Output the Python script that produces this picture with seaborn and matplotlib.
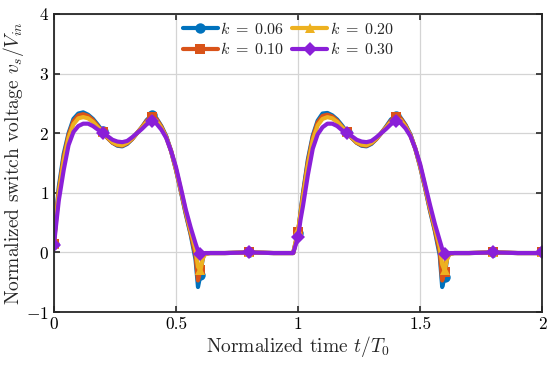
import numpy as np
import pandas as pd
import matplotlib
matplotlib.use('Agg')
import matplotlib.pyplot as plt
import seaborn as sns

# time grid (one switching period, repeated for the second period)
t_period = [0.00, 0.01, 0.02, 0.04, 0.06, 0.08, 0.10, 0.12, 0.14, 0.16, 0.18, 0.20,
            0.22, 0.24, 0.26, 0.28, 0.30, 0.32, 0.34, 0.36, 0.38, 0.40, 0.42, 0.44,
            0.46, 0.48, 0.50, 0.52, 0.54, 0.56, 0.58, 0.59, 0.60, 0.61, 0.62, 0.64,
            0.70, 0.80, 0.90, 0.98]
t = t_period + [round(x + 1, 2) for x in t_period] + [2.00]

k_labels = [r'$k\;=\;0.06$', r'$k\;=\;0.10$', r'$k\;=\;0.20$', r'$k\;=\;0.30$']

v_k006 = [0.15, 0.65, 1.10, 1.65, 2.00, 2.24, 2.33, 2.35, 2.31, 2.24, 2.14, 2.03,
          1.92, 1.84, 1.79, 1.78, 1.82, 1.90, 2.00, 2.10, 2.22, 2.30, 2.25, 2.12,
          1.95, 1.70, 1.38, 1.02, 0.64, 0.30, -0.12, -0.58, -0.38, -0.08, -0.02, -0.01,
          -0.01, 0.00, -0.01, -0.01,
          0.33, 0.68, 1.00, 1.56, 1.96, 2.21, 2.33, 2.34, 2.30, 2.23, 2.13, 2.02,
          1.92, 1.84, 1.79, 1.78, 1.82, 1.90, 2.00, 2.11, 2.23, 2.29, 2.26, 2.14,
          1.98, 1.74, 1.43, 1.08, 0.70, 0.36, -0.05, -0.58, -0.42, -0.10, -0.02, -0.01,
          -0.01, 0.00, -0.01, -0.01, 0.00]

v_k010 = [0.15, 0.62, 1.05, 1.60, 1.97, 2.20, 2.30, 2.32, 2.29, 2.22, 2.12, 2.02,
          1.92, 1.84, 1.80, 1.79, 1.83, 1.90, 2.00, 2.10, 2.21, 2.27, 2.24, 2.11,
          1.94, 1.70, 1.39, 1.03, 0.66, 0.32, -0.05, -0.47, -0.30, -0.07, -0.02, -0.01,
          -0.01, 0.00, -0.01, -0.01,
          0.35, 0.66, 0.97, 1.52, 1.93, 2.18, 2.29, 2.31, 2.28, 2.21, 2.11, 2.02,
          1.92, 1.84, 1.80, 1.79, 1.83, 1.90, 2.00, 2.10, 2.21, 2.27, 2.25, 2.13,
          1.97, 1.74, 1.44, 1.09, 0.72, 0.38, 0.01, -0.47, -0.33, -0.08, -0.02, -0.01,
          -0.01, 0.00, -0.01, -0.01, 0.00]

v_k020 = [0.14, 0.58, 1.00, 1.53, 1.92, 2.15, 2.25, 2.27, 2.25, 2.19, 2.10, 2.02,
          1.93, 1.85, 1.81, 1.80, 1.84, 1.91, 2.00, 2.09, 2.19, 2.24, 2.21, 2.09,
          1.93, 1.70, 1.40, 1.05, 0.69, 0.36, 0.05, -0.24, -0.30, -0.10, -0.02, -0.01,
          -0.01, 0.00, -0.01, -0.01,
          0.38, 0.64, 0.92, 1.46, 1.88, 2.13, 2.24, 2.27, 2.25, 2.19, 2.10, 2.02,
          1.93, 1.85, 1.81, 1.80, 1.84, 1.91, 2.00, 2.09, 2.19, 2.24, 2.22, 2.11,
          1.96, 1.74, 1.45, 1.11, 0.75, 0.42, 0.10, -0.20, -0.30, -0.12, -0.02, -0.01,
          -0.01, 0.00, -0.01, -0.01, 0.00]

v_k030 = [0.12, 0.50, 0.87, 1.38, 1.80, 2.02, 2.12, 2.16, 2.16, 2.12, 2.06, 2.01,
          1.95, 1.89, 1.86, 1.85, 1.87, 1.93, 2.00, 2.07, 2.15, 2.20, 2.16, 2.06,
          1.92, 1.70, 1.43, 1.08, 0.72, 0.42, 0.15, 0.03, -0.03, -0.02, -0.01, -0.01,
          -0.01, 0.00, -0.01, -0.01,
          0.26, 0.55, 0.78, 1.30, 1.74, 1.98, 2.10, 2.16, 2.16, 2.12, 2.05, 2.00,
          1.95, 1.89, 1.86, 1.85, 1.87, 1.93, 2.00, 2.07, 2.15, 2.20, 2.17, 2.08,
          1.95, 1.74, 1.48, 1.14, 0.80, 0.48, 0.20, 0.06, -0.02, -0.02, -0.01, -0.01,
          -0.01, 0.00, -0.01, -0.01, 0.00]

colors = ['#0072BD', '#D95319', '#EDB120', '#8A1FD8']
marker_list = ['o', 's', '^', 'D']

frames = []
for lab, vals in zip(k_labels, [v_k006, v_k010, v_k020, v_k030]):
    frames.append(pd.DataFrame({'t': t, 'v': vals, 'k': lab}))
df = pd.concat(frames, ignore_index=True)

# markers every 0.2 in time
mark_idx = [i for i, x in enumerate(t) if abs(x * 5 - round(x * 5)) < 1e-9]

sns.set_theme(style='ticks')
plt.rcParams.update({
    'font.family': 'serif',
    'font.serif': ['cmr10'],
    'mathtext.fontset': 'cm',
    'axes.formatter.use_mathtext': True,
    'axes.unicode_minus': True,
})

fig, ax = plt.subplots(figsize=(5.5, 3.68), dpi=100)
fig.subplots_adjust(left=0.098, right=0.986, bottom=0.152, top=0.962)

sns.lineplot(data=df, x='t', y='v', hue='k', style='k', palette=colors,
             markers=marker_list, dashes=False, linewidth=3.0, markersize=7.5,
             markeredgewidth=0, markevery=mark_idx, sort=False, ax=ax)

ax.set_xlim(0, 2)
ax.set_ylim(-1, 4)
ax.set_xticks([0, 0.5, 1, 1.5, 2])
ax.set_xticklabels(['0', '0.5', '1', '1.5', '2'])
ax.set_yticks([-1, 0, 1, 2, 3, 4])
ax.grid(True, color='#d4d4d4', linewidth=0.9)
ax.tick_params(direction='in', top=True, right=True, labelsize=12.5, length=4,
               width=1.2, colors='#262626', labelcolor='black')
for s in ax.spines.values():
    s.set_linewidth(1.3)
    s.set_color('#262626')
    s.set_visible(True)

ax.set_xlabel('Normalized time $t/T_0$', fontsize=14, labelpad=1)
ax.set_ylabel('Normalized switch voltage $v_s/V_{in}$', fontsize=14)
ax.yaxis.set_label_coords(-0.058, 0.5)

sns.move_legend(ax, 'upper center', bbox_to_anchor=(0.48, 1.01), ncol=2,
                frameon=False, title=None, fontsize=11.5, handlelength=2.2,
                columnspacing=0.5, handletextpad=0.15, labelspacing=0.3,
                borderaxespad=0.2)

plt.savefig('out.png', dpi=100)
